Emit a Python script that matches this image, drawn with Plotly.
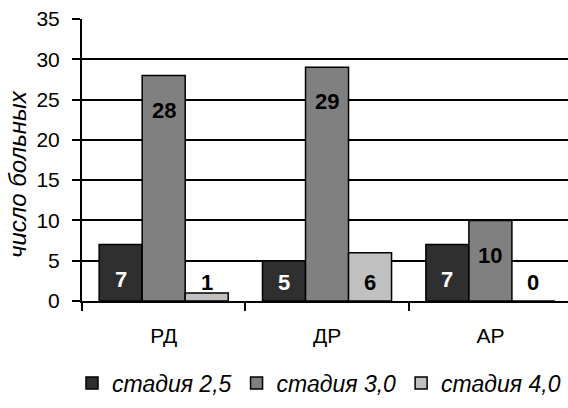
import plotly.graph_objects as go

categories = ["РД", "ДР", "АР"]
series_names = ["стадия 2,5", "стадия 3,0", "стадия 4,0"]
stage_25 = [7, 5, 7]
stage_30 = [28, 29, 10]
stage_40 = [1, 6, 0]
y_ticks = [0, 5, 10, 15, 20, 25, 30, 35]

series_values = [stage_25, stage_30, stage_40]
fill_colors = ["#2f2f2f", "#808080", "#c0c0c0"]
label_colors = ["white", "black", "black"]

FONT = "Liberation Sans, Arial, sans-serif"
BARGAP = 0.21
L, T, B = 82, 19, 107
PW, PH = 568 - L, 408 - T - B

fig = go.Figure()
for name, vals, col in zip(series_names, series_values, fill_colors):
    fig.add_trace(go.Bar(
        x=categories, y=vals, name=f"<i>{name}</i>",
        marker=dict(color=col, line=dict(color="black", width=1.5)),
        hoverinfo="skip",
    ))

# data labels (Excel-style placement near the top of each bar)
w = (1 - BARGAP) / 3
annotations = []
for j, (vals, tc) in enumerate(zip(series_values, label_colors)):
    for i, v in enumerate(vals):
        ly = max(v - 4.3, 2.25)
        annotations.append(dict(
            x=i + (j - 1) * w, y=ly, xref="x", yref="y",
            text=f"<b>{v}</b>", showarrow=False,
            font=dict(family=FONT, size=22, color=tc),
            xanchor="center", yanchor="middle",
        ))

annotations.append(dict(
    x=(17 - L) / PW, y=(T + PH - 174) / PH, xref="paper", yref="paper",
    text="<i>число больных</i>", textangle=-90, showarrow=False,
    font=dict(family=FONT, size=24, color="black"),
    xanchor="center", yanchor="middle",
))

fig.update_layout(
    width=568, height=408,
    margin=dict(l=L, r=0, t=T, b=B, autoexpand=False),
    paper_bgcolor="white", plot_bgcolor="white",
    barmode="group", bargap=BARGAP, bargroupgap=0,
    font=dict(family=FONT, size=20, color="black"),
    showlegend=True,
    legend=dict(
        orientation="h", x=(72 - L) / PW, xanchor="left",
        y=(T + PH - 383) / PH, yanchor="middle",
        font=dict(family=FONT, size=23, color="black"),
        itemwidth=30, tracegroupgap=0,
    ),
    annotations=annotations,
)
fig.update_xaxes(
    type="category", range=[-0.5, 2.475], automargin=False,
    showline=True, linecolor="black", linewidth=2,
    ticks="outside", ticklen=8, tickwidth=2, tickcolor="black",
    tickson="boundaries", ticklabelstandoff=15,
    showgrid=False, zeroline=False,
    tickfont=dict(family=FONT, size=21, color="black"),
)
fig.update_yaxes(
    range=[0, 35], tickvals=y_ticks, ticktext=[str(t) for t in y_ticks],
    automargin=False,
    showline=True, linecolor="black", linewidth=2,
    ticks="outside", ticklen=8, tickwidth=2, tickcolor="black",
    ticklabelstandoff=8,
    showgrid=True, gridcolor="black", gridwidth=1.5, zeroline=False,
    tickfont=dict(family=FONT, size=21, color="black"),
)

fig.write_html(
    "out.html",
    config={"displayModeBar": False},
    post_script="document.body.style.margin='0';document.body.style.overflow='hidden';",
)
